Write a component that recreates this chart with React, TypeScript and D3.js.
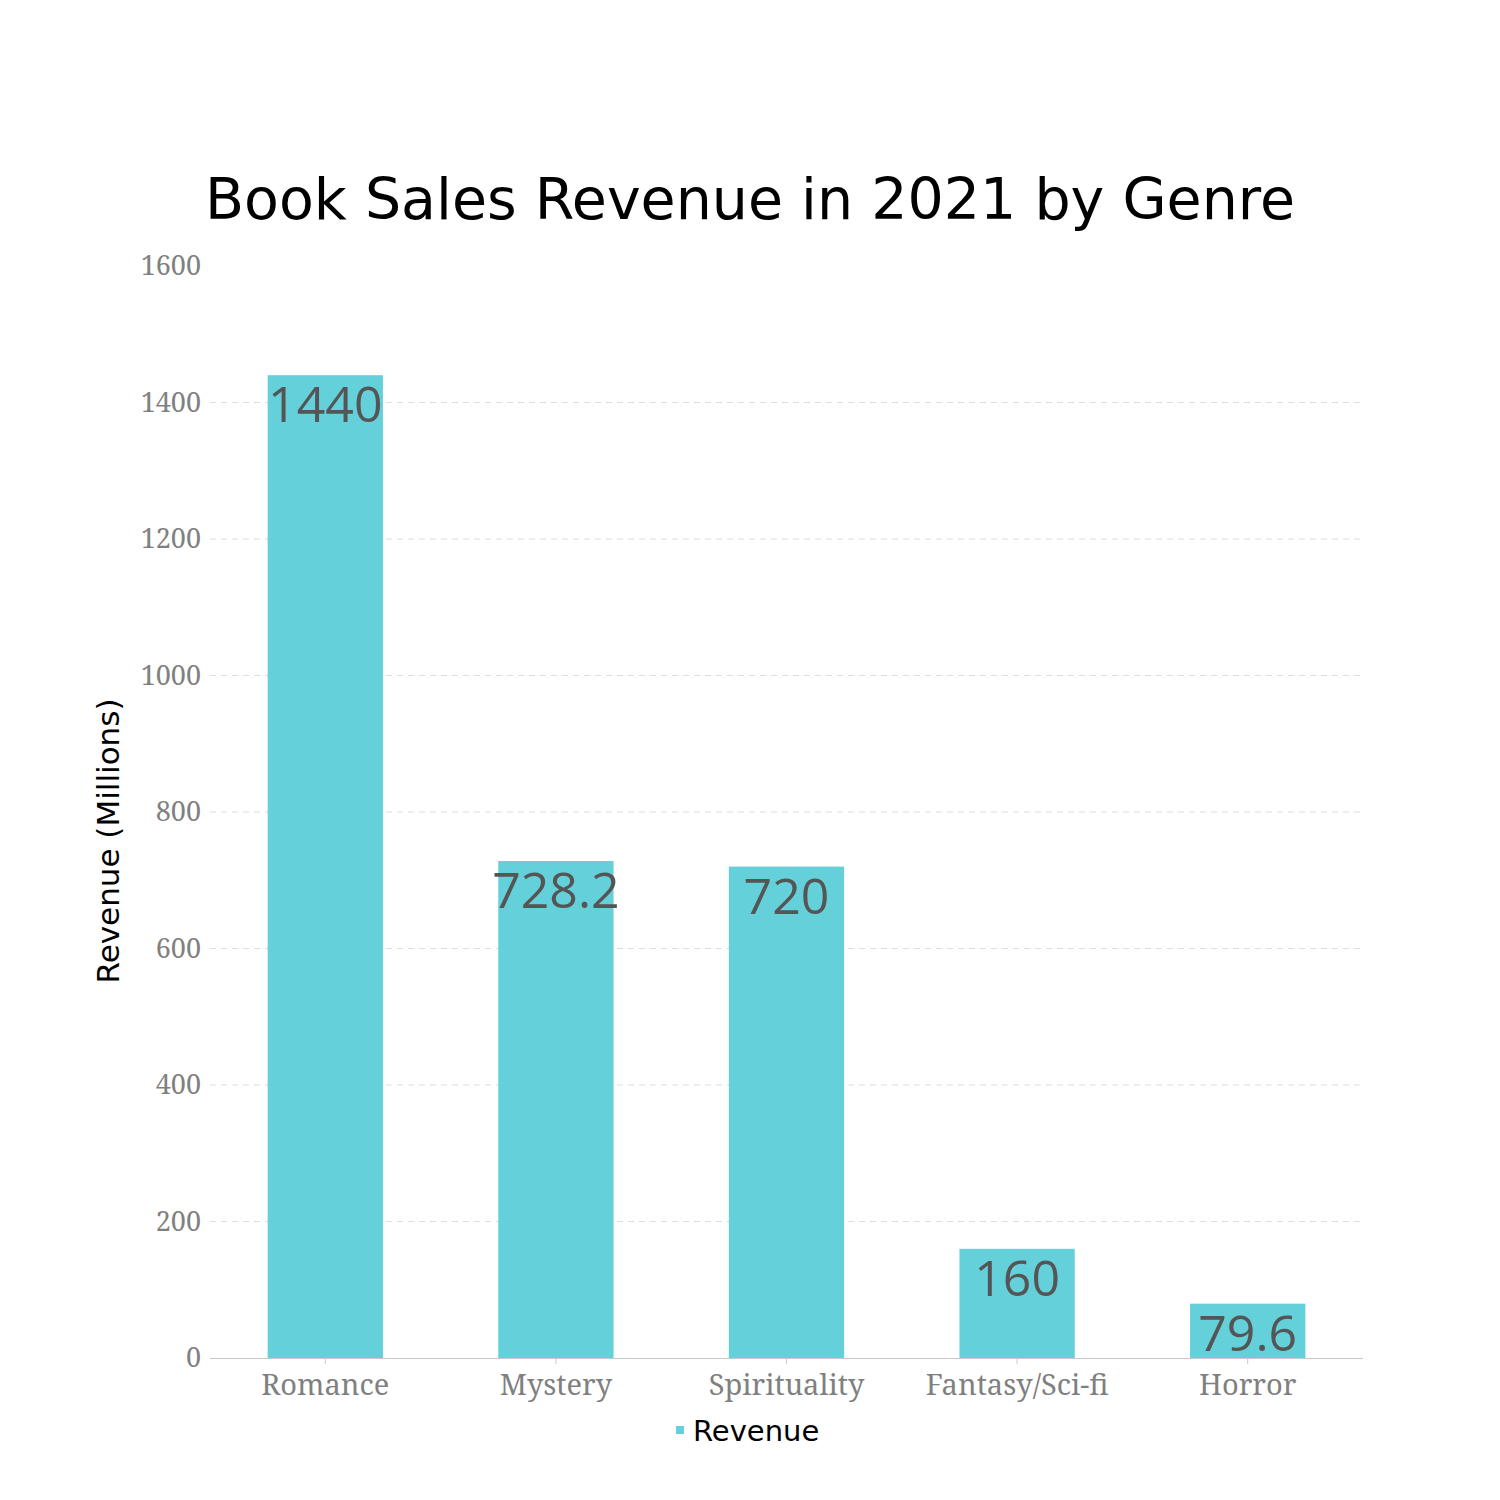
import React, { useRef, useEffect } from 'react';
import * as d3 from 'd3';

const genres: string[] = ['Romance', 'Mystery', 'Spirituality', 'Fantasy/Sci-fi', 'Horror'];
const revenue: number[] = [1440, 728.2, 720, 160, 79.6];
const yTicks: number[] = [0, 200, 400, 600, 800, 1000, 1200, 1400, 1600];

const App: React.FC = () => {
  const ref = useRef<SVGSVGElement | null>(null);

  useEffect(() => {
    if (!ref.current) return;
    const width = 1500;
    const height = 1500;
    const margin = { top: 266, right: 137, bottom: 142, left: 210 };
    const innerW = width - margin.left - margin.right;
    const innerH = height - margin.top - margin.bottom;

    const svg = d3.select(ref.current);
    svg.selectAll('*').remove();

    const data = genres.map((g, i) => ({ label: g, value: revenue[i] }));

    const x = d3.scaleBand<string>().domain(genres).range([0, innerW])
      .paddingInner(0.5).paddingOuter(0.25);
    const y = d3.scaleLinear().domain([0, 1600]).range([innerH, 0]);

    // title
    svg.append('text')
      .attr('x', 750)
      .attr('y', 219)
      .attr('text-anchor', 'middle')
      .style('font-family', '"DejaVu Sans", sans-serif')
      .style('font-size', '57px')
      .attr('fill', '#000')
      .text('Book Sales Revenue in 2021 by Genre');

    const g = svg.append('g').attr('transform', `translate(${margin.left},${margin.top})`);

    // gridlines
    g.selectAll('line.grid')
      .data(yTicks.filter((t) => t > 0 && t < 1600))
      .enter()
      .append('line')
      .attr('class', 'grid')
      .attr('x1', 0)
      .attr('x2', innerW)
      .attr('y1', (d) => y(d))
      .attr('y2', (d) => y(d))
      .attr('stroke', '#dcdcdc')
      .attr('stroke-width', 1)
      .attr('stroke-dasharray', '6,5');

    // y axis labels
    const yAxis = d3.axisLeft(y).tickValues(yTicks).tickFormat(d3.format('d')).tickSize(0).tickPadding(9);
    const yg = g.append('g').call(yAxis);
    yg.select('.domain').remove();
    yg.selectAll('text')
      .style('font-family', '"Noto Serif", "DejaVu Serif", serif')
      .style('font-size', '27px')
      .attr('fill', '#808080');

    // bars
    g.selectAll('rect.bar')
      .data(data)
      .enter()
      .append('rect')
      .attr('class', 'bar')
      .attr('x', (d) => x(d.label) || 0)
      .attr('y', (d) => y(d.value))
      .attr('width', x.bandwidth())
      .attr('height', (d) => innerH - y(d.value))
      .attr('fill', '#64d0da');

    // x axis
    const xAxis = d3.axisBottom(x).tickSize(6).tickPadding(10);
    const xg = g.append('g').attr('transform', `translate(0,${innerH})`).call(xAxis);
    xg.select('.domain').attr('stroke', '#c8c8c8').attr('d', `M0,0.5H${innerW}`);
    xg.selectAll('.tick line').attr('stroke', '#c8c8c8');
    xg.selectAll('text')
      .style('font-family', '"Noto Serif", "DejaVu Serif", serif')
      .style('font-size', '29px')
      .attr('fill', '#808080');

    // value labels
    g.selectAll('text.val')
      .data(data)
      .enter()
      .append('text')
      .attr('class', 'val')
      .attr('x', (d) => (x(d.label) || 0) + x.bandwidth() / 2)
      .attr('y', (d) => y(d.value) + 47)
      .attr('text-anchor', 'middle')
      .style('font-family', '"Open Sans", "Noto Sans", sans-serif')
      .style('font-size', '50px')
      .attr('fill', '#555555')
      .text((d) => String(d.value));

    // y axis title
    svg.append('text')
      .attr('transform', 'translate(119,841) rotate(-90)')
      .attr('text-anchor', 'middle')
      .style('font-family', '"DejaVu Sans", sans-serif')
      .style('font-size', '31px')
      .attr('fill', '#000')
      .text('Revenue (Millions)');

    // legend
    svg.append('rect')
      .attr('x', 676)
      .attr('y', 1426)
      .attr('width', 8)
      .attr('height', 8)
      .attr('fill', '#64d0da');
    svg.append('text')
      .attr('x', 693)
      .attr('y', 1441)
      .style('font-family', '"DejaVu Sans", sans-serif')
      .style('font-size', '29px')
      .attr('fill', '#000')
      .text('Revenue');
  }, []);

  return (
    <div style={{ position: 'absolute', left: 0, top: 0 }}>
      <svg ref={ref} width={1500} height={1500} style={{ display: 'block', background: '#fff' }} />
    </div>
  );
};

export default App;
